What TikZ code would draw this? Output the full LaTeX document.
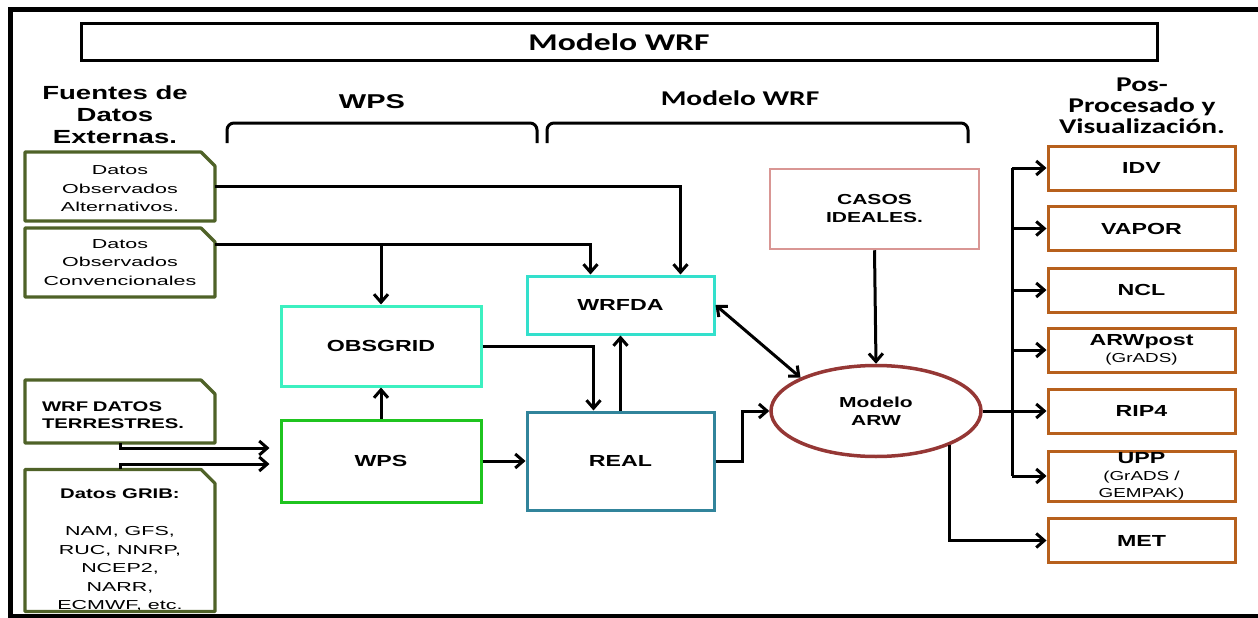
\documentclass[tikz,border=0pt]{standalone}
\usepackage{fontspec}
\setmainfont{Liberation Sans}[FakeStretch=1.45]
\newfontfamily\smallsans{Liberation Sans}[FakeStretch=1.65]
\newfontfamily\calib{Carlito}[FakeStretch=1.4]
\usepackage{xcolor}
\definecolor{docgreen}{HTML}{4F6228}
\definecolor{mint}{HTML}{3CF0C0}
\definecolor{turq}{HTML}{33E0CC}
\definecolor{wpsgreen}{HTML}{1FC41F}
\definecolor{realblue}{HTML}{31849B}
\definecolor{idealpink}{HTML}{D99694}
\definecolor{arwred}{HTML}{953735}
\definecolor{postbrown}{HTML}{B7601C}
\usetikzlibrary{arrows.meta,shapes.geometric}
\newcommand{\fs}[2]{\fontsize{#1}{#2}\selectfont}
\newcommand{\subline}[1]{{\mdseries\fs{13}{15}#1}}

\begin{document}
\begin{tikzpicture}[
  x=1pt, y=-1pt,
  titlebox/.style={
    draw, line width=3pt, minimum width=1076pt, minimum height=37pt,
    font=\calib\bfseries\fs{24}{28},
  },
  head/.style={font=\bfseries\fs{19}{22}, align=center},
  calhead/.style={font=\calib\bfseries\fs{21}{21}, align=center},
  brace/.style={line width=3pt, rounded corners=7pt},
  docbox/.style={
    minimum width=190pt, inner sep=0pt, outer sep=0pt,
    align=center, font=\smallsans\fs{13}{18.5},
  },
  docline/.style={draw=docgreen, line width=3.2pt, line join=round},
  procbox/.style={
    draw, line width=3pt, inner sep=2pt,
    align=center, font=\bfseries\fs{16}{19},
  },
  postbox/.style={
    draw=postbrown, line width=3pt,
    minimum width=187pt, minimum height=44pt, inner sep=1pt,
    align=center, font=\bfseries\fs{16}{17},
  },
  line/.style={line width=3pt},
  link/.style={line width=3pt, -{Straight Barb[length=8pt,width=14pt]}},
  dlink/.style={line width=3pt,
    {Straight Barb[length=8pt,width=14pt]}-{Straight Barb[length=8pt,width=14pt]}},
]
\useasboundingbox (0,0) rectangle (1258,618);

% marco
\draw[line width=5pt] (1258,10) -- (10,10) -- (10,616) -- (1258,616);

% titulo y cabeceras
\node[titlebox] (title) at (619,42.5) {Modelo WRF};
\node[head] (hfuentes) at (115,115) {Fuentes de\\Datos\\Externas.};
\node[head, font=\bfseries\fs{20}{24}] (hwps) at (372,102) {WPS};
\node[calhead] (hwrf) at (740,98) {Modelo WRF};
\node[calhead] (hpost) at (1142,106) {Pos-\\Procesado y\\Visualización.};

\draw[brace] (227,143) -- (227,123) -- (537,123) -- (537,143);
\draw[brace] (547,143) -- (547,123) -- (968,123) -- (968,143);

% fuentes de datos
\node[docbox, minimum height=69pt] (alt) at (120,186.5) {\rule{0pt}{14pt}Datos\\Observados\\Alternativos.};
\node[docbox, minimum height=69pt] (conv) at (120,262.5) {Datos\\Observados\\Convencionales};
\node[docbox, minimum height=63pt, align=left, text width=156pt,
  font=\bfseries\fs{14}{17}] (terr) at (120,411.5) {\rule{0pt}{18pt}WRF DATOS\\TERRESTRES.};
\node[docbox, minimum height=137pt] (grib) at (120,540.5)
  {{\rule{0pt}{29pt}\rmfamily\bfseries\fs{14}{18}Datos GRIB:}\\[19pt]NAM, GFS,\\RUC, NNRP,\\NCEP2,\\NARR,\\ECMWF, etc.};
\foreach \d in {alt,conv,terr,grib}
  \draw[docline] (\d.south west) -- (\d.north west) -- ([xshift=-14pt]\d.north east)
    -- ([yshift=-14pt]\d.north east) -- (\d.south east) -- cycle;

% WPS y WRF
\node[procbox, draw=mint, minimum width=200pt, minimum height=80pt] (obsgrid) at (381,346) {OBSGRID};
\node[procbox, draw=wpsgreen, minimum width=200pt, minimum height=82pt] (wps) at (381,461) {WPS};
\node[procbox, draw=turq, minimum width=187pt, minimum height=58pt] (wrfda) at (620.5,305) {WRFDA};
\node[procbox, draw=realblue, minimum width=187pt, minimum height=98pt] (real) at (620.5,461) {REAL};
\node[procbox, draw=idealpink, line width=2.5pt, minimum width=209pt, minimum height=80pt,
  font=\bfseries\fs{14.5}{18}] (casos) at (874.5,209) {CASOS\\IDEALES.};
\node[ellipse, draw=arwred, line width=3.5pt, minimum width=210pt, minimum height=91pt,
  inner sep=0pt, align=center, font=\bfseries\fs{14.5}{18}] (arw) at (876,411) {Modelo\\ARW};

% post-proceso
\node[postbox] (idv) at (1141.5,168) {IDV};
\node[postbox] (vapor) at (1141.5,228.5) {VAPOR};
\node[postbox] (ncl) at (1141.5,290) {NCL};
\node[postbox] (arwp) at (1141.5,350) {ARWpost\\\subline{(GrADS)}};
\node[postbox] (rip) at (1141.5,411) {RIP4};
\node[postbox, minimum height=50pt] (upp) at (1141.5,476) {UPP\\\subline{(GrADS /}\\\subline{GEMPAK)}};
\node[postbox] (met) at (1141.5,540.5) {MET};

% conexiones
\coordinate (convout) at ([yshift=18pt]conv.east);
\draw[link] (alt.east) -| ([xshift=60pt]wrfda.north);
\draw[link] (convout) -| ([xshift=-30pt]wrfda.north);
\draw[link] (obsgrid.north |- convout) -- (obsgrid.north);
\draw[link] (wps.north) -- (obsgrid.south);
\draw[link] (obsgrid.east) -| ([xshift=-27pt]real.north);
\draw[link] (real.north) -- (wrfda.south);
\draw[link] (wps.east) -- (real.west);
\draw[link, shorten >=10pt] (terr.south) |- ([yshift=13pt]wps.west);
\draw[link, shorten >=10pt] (grib.north) |- ([yshift=-3pt]wps.west);
\draw[link] (real.east) -- ++(27,0) |- (arw.west);
\draw[dlink] (wrfda.east) -- (arw.north west);
\draw[link] (casos.south) -- (arw.north);

\coordinate (trunk) at (1012,411);
\draw[line] (idv.west -| trunk) -- (upp.west -| trunk);
\foreach \b in {idv,vapor,ncl,arwp,upp}
  \draw[link] (\b.west -| trunk) -- (\b.west);
\draw[link] (arw.east) -- (rip.west);
\draw[link] (arw.-25) |- (met.west);

\end{tikzpicture}
\end{document}
